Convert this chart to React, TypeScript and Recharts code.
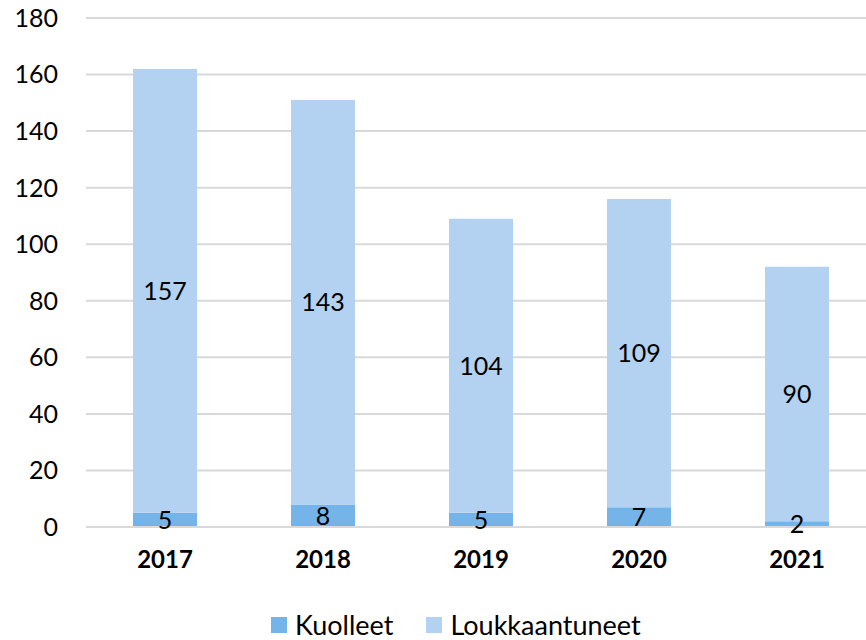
import React from "react";
import { BarChart, Bar, XAxis, YAxis, CartesianGrid, LabelList } from "recharts";

const years = ["2017", "2018", "2019", "2020", "2021"];
const kuolleet = [5, 8, 5, 7, 2];
const loukkaantuneet = [157, 143, 104, 109, 90];
const yTicks = [0, 20, 40, 60, 80, 100, 120, 140, 160, 180];

const series = [
  { key: "kuolleet", name: "Kuolleet", color: "#74b4e8" },
  { key: "loukkaantuneet", name: "Loukkaantuneet", color: "#b3d1f0" },
];

const data = years.map((y, i) => ({
  year: y,
  kuolleet: kuolleet[i],
  loukkaantuneet: loukkaantuneet[i],
}));

const FONT = "Lato, 'Open Sans', sans-serif";

export default function App() {
  return (
    <div style={{ position: "absolute", left: 0, top: 0, width: 866, height: 640, overflow: "hidden", fontFamily: FONT }}>
      <BarChart
        width={880}
        height={640}
        data={data}
        margin={{ top: 18, right: 4, bottom: 83, left: 0 }}
        barCategoryGap={0}
      >
        <CartesianGrid vertical={false} stroke="#d9d9d9" strokeWidth={2} />
        <XAxis
          dataKey="year"
          axisLine={{ stroke: "#d9d9d9", strokeWidth: 2 }}
          tickLine={false}
          tickSize={0}
          tickMargin={24}
          height={30}
          tick={{ fill: "#000", fontSize: 24, fontWeight: 700, fontFamily: FONT }}
        />
        <YAxis
          domain={[0, 180]}
          ticks={yTicks}
          width={86}
          axisLine={false}
          tickLine={false}
          tickSize={0}
          tickMargin={28}
          interval={0}
          tick={{ fill: "#000", fontSize: 25, fontFamily: FONT }}
        />
        {series.map((s) => (
          <Bar key={s.key} dataKey={s.key} name={s.name} stackId="a" fill={s.color} barSize={64} isAnimationActive={false}>
            <LabelList dataKey={s.key} position="center" fill="#000" fontSize={25} fontFamily={FONT} />
          </Bar>
        ))}
      </BarChart>
      <div
        style={{
          position: "absolute",
          top: 610,
          left: 271,
          height: 30,
          display: "flex",
          alignItems: "center",
          fontSize: 27,
          lineHeight: "30px",
          color: "#000",
          whiteSpace: "nowrap",
        }}
      >
        {series.map((s, i) => (
          <div key={s.key} style={{ display: "flex", alignItems: "center", marginRight: i === 0 ? 33 : 0 }}>
            <span style={{ display: "inline-block", width: 16, height: 16, background: s.color, marginRight: 8 }} />
            <span>{s.name}</span>
          </div>
        ))}
      </div>
    </div>
  );
}
